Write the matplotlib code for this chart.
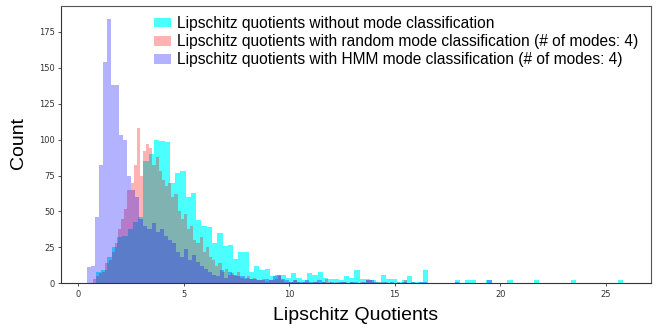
import numpy as np
import matplotlib
matplotlib.use("Agg")
import matplotlib.pyplot as plt
from matplotlib.patches import Patch

# ---- data (bin counts; 100 bins each) ----
cyan_range = (0.84, 25.84)
cyan_counts = [8, 9, 18, 25, 32, 33, 38, 43, 46, 85,
               90, 100, 99, 98, 70, 77, 78, 60, 63, 44,
               40, 39, 28, 35, 26, 27, 17, 22, 22, 8,
               12, 9, 10, 5, 6, 6, 4, 7, 4, 2,
               7, 6, 8, 4, 3, 3, 2, 5, 4, 9,
               3, 3, 2, 1, 6, 3, 3, 1, 2, 5,
               1, 1, 9, 0, 0, 0, 0, 0, 2, 0,
               2, 2, 0, 0, 2, 0, 0, 0, 2, 0,
               0, 0, 0, 2, 0, 0, 0, 0, 0, 0,
               2, 0, 0, 0, 0, 0, 0, 0, 0, 2]

red_range = (0.69, 15.57)
red_counts = [3, 5, 7, 8, 14, 16, 22, 28, 38, 45,
              52, 65, 70, 82, 108, 75, 92, 97, 94, 82,
              88, 78, 72, 68, 70, 60, 62, 50, 45, 48,
              38, 40, 30, 28, 32, 22, 25, 18, 16, 12,
              14, 8, 10, 6, 7, 5, 8, 4, 3, 5,
              3, 4, 2, 2, 3, 1, 2, 2, 3, 5,
              2, 1, 1, 1, 2, 1, 0, 1, 1, 0,
              1, 1, 0, 1, 3, 1, 0, 1, 0, 1,
              1, 0, 1, 0, 0, 1, 0, 2, 2, 1,
              0, 1, 0, 1, 0, 0, 0, 1, 0, 2]

hmm_range = (0.40, 19.59)
hmm_counts = [11, 12, 46, 82, 154, 184, 138, 138, 103, 100,
              75, 65, 60, 45, 40, 38, 42, 36, 38, 33,
              30, 28, 22, 18, 24, 16, 20, 15, 12, 10,
              8, 6, 5, 9, 4, 8, 6, 5, 5, 4,
              3, 3, 2, 2, 3, 2, 5, 6, 3, 2,
              1, 2, 1, 1, 2, 1, 1, 2, 1, 0,
              1, 0, 1, 1, 0, 1, 1, 0, 1, 2,
              2, 1, 0, 1, 0, 1, 0, 0, 1, 0,
              1, 0, 1, 1, 0, 0, 0, 0, 0, 0,
              0, 1, 0, 0, 0, 0, 0, 0, 0, 2]

labels = ["Lipschitz quotients without mode classification",
          "Lipschitz quotients with random mode classification (# of modes: 4)",
          "Lipschitz quotients with HMM mode classification (# of modes: 4)"]
x_ticks = [0, 5, 10, 15, 20, 25]
y_ticks = [0, 25, 50, 75, 100, 125, 150, 175]

W, H = 661, 329
fig = plt.figure(figsize=(W / 100, H / 100), dpi=100)
ax = fig.add_axes([61 / W, 1 - 283.3 / H, (651 - 61) / W, (283.3 - 6) / H])

series = [(cyan_range, cyan_counts, "cyan", 0.7),
          (red_range, red_counts, "red", 0.3),
          (hmm_range, hmm_counts, "blue", 0.3)]
for (lo, hi), counts, col, a in series:
    edges = np.linspace(lo, hi, len(counts) + 1)
    centers = 0.5 * (edges[:-1] + edges[1:])
    ax.hist(centers, bins=edges, weights=counts, color=col, alpha=a)

ax.set_xlim(-0.82, 27.15)
ax.set_ylim(0, 193)
ax.set_xticks(x_ticks)
ax.set_yticks(y_ticks)
ax.tick_params(labelsize=6, length=2.5, width=0.6, colors="#333333", pad=2)
for s in ax.spines.values():
    s.set_linewidth(0.8)
    s.set_color("#555555")
ax.spines["left"].set_color("#333333")
ax.spines["bottom"].set_color("#333333")

handles = [Patch(facecolor="cyan", alpha=0.7, edgecolor="none"),
           Patch(facecolor="red", alpha=0.3, edgecolor="none"),
           Patch(facecolor="blue", alpha=0.3, edgecolor="none")]
leg = fig.legend(handles, labels, loc="upper left",
                 bbox_to_anchor=(154 / W, 1 - 16 / H),
                 frameon=False, borderpad=0, borderaxespad=0,
                 handlelength=1.1, handleheight=0.6, handletextpad=0.4,
                 labelspacing=0.2,
                 prop={"family": "Liberation Sans", "size": 11.2})

fig.text(19 / W, 1 - 143 / H, "Count", rotation=90, ha="center", va="center",
         family="Liberation Sans", fontsize=14)
fig.text(356 / W, 1 - 315 / H, "Lipschitz Quotients", ha="center", va="center",
         family="Liberation Sans", fontsize=14)

fig.savefig("out.png", dpi=100)
